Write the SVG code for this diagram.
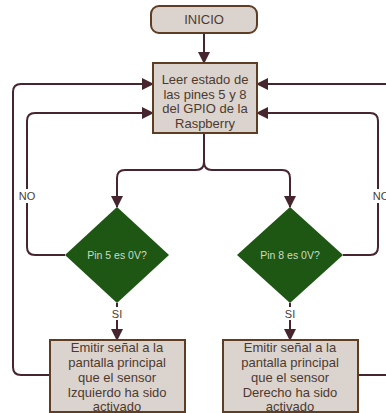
<svg xmlns="http://www.w3.org/2000/svg" width="386" height="413" viewBox="0 0 386 413">
  <defs>
    <marker id="arrow" markerWidth="12" markerHeight="12" refX="11" refY="6" orient="auto" markerUnits="userSpaceOnUse">
      <path d="M0,0 L12,6 L0,12 Z" fill="#46252f"/>
    </marker>
    <style>
      .box { fill: #dbd3ce; stroke: #5e3d22; stroke-width: 2; }
      .dec { fill: #1e5614; stroke: none; }
      .txt { font-family: "Liberation Sans", Arial, sans-serif; font-size: 13px; fill: #4d3a2e; text-anchor: middle; }
      .dtxt { font-family: "Liberation Sans", Arial, sans-serif; font-size: 10.5px; fill: #c9dcc4; text-anchor: middle; }
      .lbl { font-family: "Liberation Sans", Arial, sans-serif; font-size: 11px; fill: #4d3a2e; text-anchor: middle; }
      .ln { fill: none; stroke: #46252f; stroke-width: 2; }
    </style>
  </defs>
  <rect width="386" height="413" fill="#ffffff"/>

  <g id="connectors">
    <!-- start to read -->
    <path class="ln" d="M204,33 L204,63" marker-end="url(#arrow)"/>
    <!-- read splits to both checks -->
    <path class="ln" d="M204,133 L204,162 Q204,170 196,170 L125,170 Q117,170 117,178 L117,207" marker-end="url(#arrow)"/>
    <path class="ln" d="M204,133 L204,162 Q204,170 212,170 L282,170 Q290,170 290,178 L290,207" marker-end="url(#arrow)"/>
    <!-- NO loops back -->
    <path class="ln" d="M65,255 L35,255 Q27,255 27,247 L27,121 Q27,113 35,113 L153,113" marker-end="url(#arrow)"/>
    <path class="ln" d="M343,255 L370,255 Q378,255 378,247 L378,121 Q378,113 370,113 L257,113" marker-end="url(#arrow)"/>
    <!-- SI to outputs -->
    <path class="ln" d="M117,303 L117,340" marker-end="url(#arrow)"/>
    <path class="ln" d="M290,303 L290,340" marker-end="url(#arrow)"/>
    <!-- outputs return to read -->
    <path class="ln" d="M50,375 L21,375 Q13,375 13,367 L13,92 Q13,84 21,84 L153,84" marker-end="url(#arrow)"/>
    <path class="ln" d="M386,84 L257,84" marker-end="url(#arrow)"/>
    <path class="ln" d="M358,375 L386,375"/>
    <!-- branch labels -->
    <rect x="17" y="189" width="20" height="14" fill="#ffffff"/>
    <text class="lbl" x="27" y="200">NO</text>
    <rect x="370" y="189" width="20" height="14" fill="#ffffff"/>
    <text class="lbl" x="381" y="200">NO</text>
    <rect x="110" y="307" width="14" height="13" fill="#ffffff"/>
    <text class="lbl" x="117" y="318">SI</text>
    <rect x="283" y="307" width="14" height="13" fill="#ffffff"/>
    <text class="lbl" x="290" y="318">SI</text>
  </g>

  <g id="inicio">
    <rect class="box" x="151" y="6" width="106" height="27" rx="8"/>
    <text class="txt" x="204" y="24">INICIO</text>
  </g>

  <g id="leer">
    <rect class="box" x="153" y="63" width="104" height="70"/>
    <text class="txt" x="205" y="84">Leer estado de</text>
    <text class="txt" x="205" y="98.5">las pines 5 y 8</text>
    <text class="txt" x="205" y="113">del GPIO de la</text>
    <text class="txt" x="205" y="127.5">Raspberry</text>
  </g>

  <g id="pin5">
    <polygon class="dec" points="117,207 169,255 117,303 65,255"/>
    <text class="dtxt" x="117" y="259">Pin 5 es 0V?</text>
  </g>

  <g id="pin8">
    <polygon class="dec" points="290,207 343,255 290,303 237,255"/>
    <text class="dtxt" x="290" y="259">Pin 8 es 0V?</text>
  </g>

  <g id="izquierdo">
    <rect class="box" x="50" y="340" width="135" height="72"/>
    <text class="txt" x="117" y="352">Emitir señal a la</text>
    <text class="txt" x="117" y="367">pantalla principal</text>
    <text class="txt" x="117" y="382">que el sensor</text>
    <text class="txt" x="117" y="396.5">Izquierdo ha sido</text>
    <text class="txt" x="117" y="410.5">activado</text>
  </g>

  <g id="derecho">
    <rect class="box" x="223" y="340" width="135" height="72"/>
    <text class="txt" x="290" y="352">Emitir señal a la</text>
    <text class="txt" x="290" y="367">pantalla principal</text>
    <text class="txt" x="290" y="382">que el sensor</text>
    <text class="txt" x="290" y="396.5">Derecho ha sido</text>
    <text class="txt" x="290" y="410.5">activado</text>
  </g>
</svg>
